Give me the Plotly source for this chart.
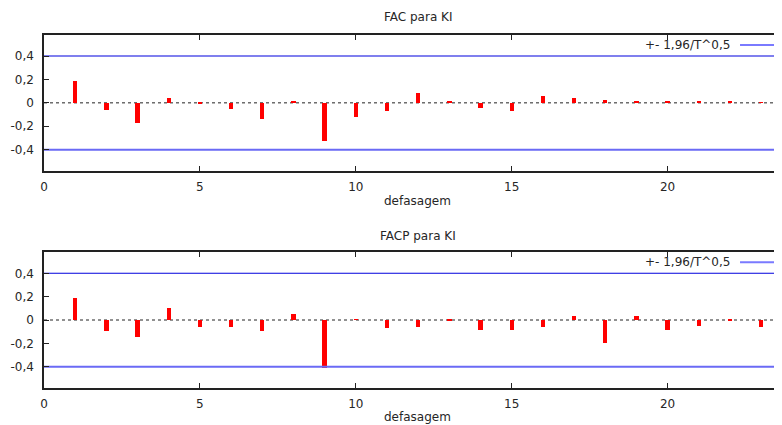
import plotly.graph_objects as go

# ---- data ----
lags = list(range(1, 24))
fac_values = [0.19, -0.06, -0.17, 0.04, -0.01, -0.05, -0.14, 0.02, -0.33, -0.12,
              -0.07, 0.08, 0.02, -0.04, -0.07, 0.06, 0.04, 0.025, 0.02, 0.016,
              0.01, 0.01, 0.005]
facp_values = [0.19, -0.10, -0.15, 0.10, -0.06, -0.06, -0.10, 0.05, -0.41, 0.004,
               -0.07, -0.06, -0.004, -0.09, -0.085, -0.06, 0.03, -0.20, 0.03, -0.09,
               -0.056, -0.005, -0.06]
conf_bound = 0.4  # 1.96 / T^0.5
ytick_vals = [-0.4, -0.2, 0, 0.2, 0.4]
ytick_text = ["-0,4", "-0,2", "0", "0,2", "0,4"]
xtick_vals = [0, 5, 10, 15, 20]
xtick_text = ["0", "5", "10", "15", "20"]
titles = ["FAC para KI", "FACP para KI"]
xlabel = "defasagem"
legend_label = "+- 1,96/T^0,5"

# page body has an 8px margin; the figure is sized to fit in the window
OFF = 8
W, H = 782 - OFF, 425 - OFF
PLOT_LEFT = 43.5  # in window pixels
L = PLOT_LEFT - OFF
X_MAX = (782 - PLOT_LEFT) / 31.2
Y_RANGE = [-0.58, 0.58]
FONT = "DejaVu Sans"
TXT = "#262626"


def py(px):
    return 1 - (px - OFF) / H


def pxx(px):
    return (px - OFF - L) / (W - L)


fig = go.Figure()

panels = [
    dict(vals=fac_values, xa="x", ya="y", top=35, bot=170.7, title_y=17.3,
         xlab_y=201, leg_y=45),
    dict(vals=facp_values, xa="x2", ya="y2", top=252.3, bot=387.7, title_y=235.7,
         xlab_y=417.0, leg_y=262.3),
]

shapes = []
annotations = []
for i, p in enumerate(panels):
    fig.add_trace(go.Scatter(x=[0, X_MAX], y=[conf_bound, conf_bound], mode="lines",
                             line=dict(color="#0000dd", width=1.1),
                             xaxis=p["xa"], yaxis=p["ya"], showlegend=False,
                             hoverinfo="skip"))
    fig.add_trace(go.Scatter(x=[0, X_MAX], y=[-conf_bound, -conf_bound], mode="lines",
                             line=dict(color="#6a6af5", width=2),
                             xaxis=p["xa"], yaxis=p["ya"], showlegend=False,
                             hoverinfo="skip"))
    shapes.append(dict(type="line", xref=p["xa"] + " domain", yref=p["ya"],
                       x0=0, x1=1, y0=0, y1=0,
                       line=dict(color="#222222", width=1, dash="dot"), layer="below"))
    fig.add_trace(go.Bar(x=lags, y=p["vals"], width=0.14, marker_color="#ff0000",
                         marker_line_width=0, xaxis=p["xa"], yaxis=p["ya"],
                         showlegend=False))
    annotations.append(dict(text=titles[i], xref="paper", yref="paper",
                            x=pxx(417.5), y=py(p["title_y"]), xanchor="center",
                            yanchor="middle", showarrow=False,
                            font=dict(family=FONT, size=12, color=TXT)))
    annotations.append(dict(text=xlabel, xref="paper", yref="paper",
                            x=pxx(417.5), y=py(p["xlab_y"]), xanchor="center",
                            yanchor="middle", showarrow=False,
                            font=dict(family=FONT, size=12, color=TXT)))
    annotations.append(dict(text=legend_label, xref="paper", yref="paper",
                            x=pxx(731.7), y=py(p["leg_y"]), xanchor="right",
                            yanchor="middle", showarrow=False,
                            font=dict(family=FONT, size=12, color=TXT)))
    shapes.append(dict(type="line", xref="paper", yref="paper",
                       x0=pxx(740), x1=pxx(776), y0=py(p["leg_y"]), y1=py(p["leg_y"]),
                       line=dict(color="#7a7aff", width=2)))

axis_common = dict(showline=True, linecolor="#222222", linewidth=1.5,
                   ticks="inside", ticklen=5, tickcolor="#222222", tickwidth=1,
                   showgrid=False, zeroline=False, automargin=False,
                   tickfont=dict(family=FONT, size=12, color=TXT))

fig.update_layout(
    width=W, height=H,
    margin=dict(l=L, r=0, t=0, b=0, autoexpand=False),
    paper_bgcolor="white", plot_bgcolor="white",
    showlegend=False, bargap=0,
    xaxis=dict(domain=[0, 1], range=[0, X_MAX], anchor="y", mirror="ticks",
               tickvals=xtick_vals, ticktext=xtick_text, ticklabelstandoff=4,
               **axis_common),
    yaxis=dict(domain=[py(170.7), py(35)], range=Y_RANGE, anchor="x", mirror=False,
               tickvals=ytick_vals, ticktext=ytick_text, ticklabelstandoff=6,
               **axis_common),
    xaxis2=dict(domain=[0, 1], range=[0, X_MAX], anchor="y2", mirror="ticks",
                tickvals=xtick_vals, ticktext=xtick_text, ticklabelstandoff=4,
                **axis_common),
    yaxis2=dict(domain=[py(387.7), py(252.3)], range=Y_RANGE, anchor="x2", mirror=False,
                tickvals=ytick_vals, ticktext=ytick_text, ticklabelstandoff=6,
                **axis_common),
    shapes=shapes,
    annotations=annotations,
)

fig.write_html("out.html")
